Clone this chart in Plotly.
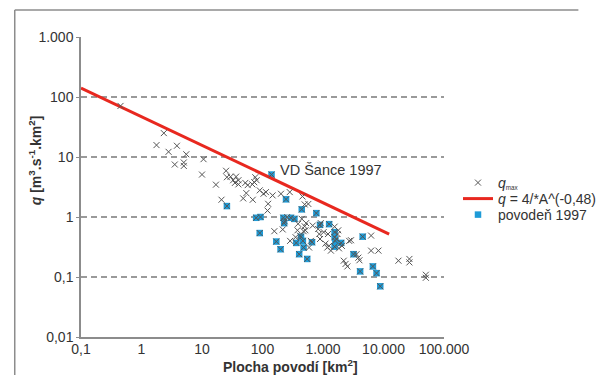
import plotly.graph_objects as go

# Grey crosses: q_max (area km2, q m3/s/km2)
qmax_A = [0.45, 1.77, 2.34, 2.8, 3.55, 3.85, 5.0, 5.0, 5.5, 10.0, 10.6, 17, 21, 25, 25.8, 29.7, 32.7,
          36.6, 35, 40, 40, 48, 52, 54, 57, 68, 69, 73, 76, 80, 90, 104, 114, 124, 121, 157, 147,
          202, 216, 232, 256, 282, 286, 352, 378, 388, 416, 446, 458, 478, 498, 512, 526, 498, 572,
          589, 631, 676, 832, 868, 893, 918, 1026, 1099, 1178, 1211, 1262, 1352, 1556, 1667, 1738,
          1787, 1837, 2052, 2202, 2359, 2529, 2710, 2904, 3581, 3837, 4000, 6238, 6238, 8244,
          17660, 26800, 26800, 50100, 50100]
qmax_q = [71, 15.8, 25, 12.2, 7.5, 15.4, 8.1, 7.1, 11.1, 5.1, 9.2, 3.46, 1.94, 5.9, 4.6, 4.7, 4.1,
          4.7, 3.7, 3.5, 4.1, 2.04, 3.7, 2.5, 3.4, 3.5, 1.94, 3.8, 4.6, 4.1, 2.78, 2.44, 2.6, 1.66,
          1.28, 0.58, 2.29, 2.44, 0.62, 0.85, 1.0, 2.6, 0.40, 0.46, 0.60, 0.77, 0.49, 0.93, 2.2,
          0.58, 0.70, 0.60, 0.79, 1.62, 1.65, 0.31, 0.40, 0.72, 0.63, 0.52, 0.43, 0.79, 0.56, 0.36,
          0.31, 0.52, 0.33, 0.275, 0.69, 0.43, 0.52, 0.60, 0.30, 0.33, 0.187, 0.165, 0.15, 0.40,
          0.41, 0.24, 0.21, 0.19, 0.49, 0.275, 0.275, 0.187, 0.2, 0.175, 0.109, 0.097]

# Blue squares: flood 1997
flood_A = [141, 25.8, 78.5, 92.7, 90, 169, 199, 222, 228, 245, 294, 337, 362, 404, 433, 446, 465,
           478, 548, 658, 776, 893, 1262, 1556, 1556, 1600, 1556, 1995, 3200, 4530, 4110, 6680,
           7670, 8830]
flood_q = [5.1, 1.52, 0.97, 1.0, 0.54, 0.39, 0.29, 0.97, 0.79, 1.97, 0.97, 0.93, 0.37, 0.24, 0.47,
           1.34, 0.40, 0.31, 0.2, 0.38, 1.16, 0.74, 0.76, 0.56, 0.46, 0.40, 0.32, 0.37, 0.24, 0.47,
           0.124, 0.15, 0.116, 0.07]

# Envelope line endpoints
line_A = [0.1, 12400]
line_q = [141, 0.52]

x_tickvals = [0.1, 1, 10, 100, 1000, 10000, 100000]
x_ticktext = ["0,1", "1", "10", "100", "1.000", "10.000", "100.000"]
y_tickvals = [0.01, 0.1, 1, 10, 100, 1000]
y_ticktext = ["0,01", "0,1", "1", "10", "100", "1.000"]

FONT = "Liberation Sans, Arial, sans-serif"
GRID = "#9a9a9a"
TXT = "#333333"

fig = go.Figure()

fig.add_trace(go.Scatter(
    x=flood_A, y=flood_q, mode="markers", name="povodeň 1997", legend="legend3",
    marker=dict(symbol="square", size=6.5, color="#1e9bd7", line=dict(width=0)),
))
fig.add_trace(go.Scatter(
    x=line_A, y=line_q, mode="lines", name="<i>q</i> = 4/*A^(-0,48)", legend="legend2",
    line=dict(color="#e8281f", width=3),
))
fig.add_trace(go.Scatter(
    x=qmax_A + flood_A, y=qmax_q + flood_q, mode="markers",
    name="<i>q</i><span style='font-size:9px'><sub>max</sub></span>",
    legend="legend",
    marker=dict(symbol="x-thin", size=6, color="#555555", line=dict(width=1, color="#555555")),
))

LX = (485 - 81) / 389


def leg(ypix):
    return dict(x=LX, y=(337 - ypix) / 300, xanchor="left", yanchor="middle",
                font=dict(size=14, color=TXT), bgcolor="rgba(0,0,0,0)", itemwidth=30)


fig.update_layout(
    width=614, height=385,
    margin=dict(l=81, r=144, t=37, b=48),
    paper_bgcolor="white", plot_bgcolor="white",
    font=dict(family=FONT, size=14, color=TXT),
    showlegend=True,
    legend=leg(183),
    legend2=leg(199),
    legend3=leg(215),
    xaxis=dict(type="log", range=[-1, 5], tickvals=x_tickvals, ticktext=x_ticktext,
               showgrid=False, zeroline=False, showline=True, linecolor="#8c8c8c", linewidth=1.5,
               ticks="", tickfont=dict(size=14), ticklabelstandoff=-2),
    yaxis=dict(type="log", range=[-2, 3], tickvals=y_tickvals, ticktext=y_ticktext,
               showgrid=True, gridcolor=GRID, gridwidth=1.5, griddash="6px,4px",
               zeroline=False, showline=True, linecolor="#8c8c8c", linewidth=1.5,
               ticks="outside", ticklen=3, tickcolor="#8c8c8c", tickfont=dict(size=14)),
    annotations=[
        dict(x=2.26, y=0.78, xref="x", yref="y", text="VD Šance 1997", showarrow=False,
             xanchor="left", yanchor="middle", font=dict(size=14.5, color=TXT)),
        dict(x=(305 - 81) / 389, y=(337 - 366) / 300, xref="paper", yref="paper",
             text="<b>Plocha povodí [km<sup>2</sup>]</b>", showarrow=False,
             xanchor="center", yanchor="middle", font=dict(size=14, color=TXT)),
        dict(x=(32 - 81) / 389, y=(337 - 160) / 300, xref="paper", yref="paper",
             text="<b><i>q</i> [m<sup>3</sup>.s<sup>-1</sup>.km<sup>2</sup>]</b>", showarrow=False,
             textangle=-90, xanchor="center", yanchor="middle", font=dict(size=14, color=TXT)),
    ],
    shapes=[
        dict(type="line", xref="paper", yref="paper", x0=(10 - 81) / 389, x1=(614 - 81) / 389,
             y0=(337 - 10) / 300, y1=(337 - 10) / 300, line=dict(color="#8c8c8c", width=1.5)),
        dict(type="line", xref="paper", yref="paper", x0=(10 - 81) / 389, x1=(10 - 81) / 389,
             y0=(337 - 10) / 300, y1=(337 - 375) / 300, line=dict(color="#8c8c8c", width=1.5)),
    ],
)

fig.write_html("out.html", config={"displayModeBar": False},
               post_script="document.body.style.margin='0';document.body.style.overflow='hidden';")
